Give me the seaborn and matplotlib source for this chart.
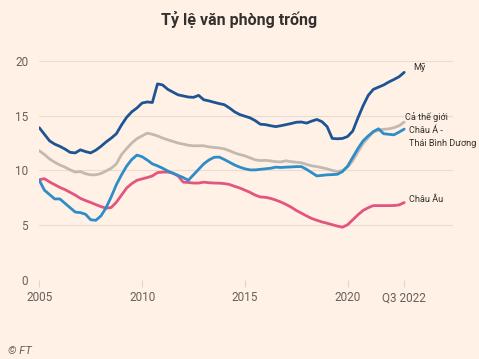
import numpy as np
import pandas as pd
import seaborn as sns
import matplotlib.pyplot as plt

# quarterly office vacancy rates (%), Q1 2005 .. Q3 2022
us = [13.9, 13.3, 12.7, 12.4, 12.2, 11.95, 11.65, 11.6, 11.88, 11.72, 11.6, 11.85,
      12.2, 12.6, 12.95, 13.35, 14.15, 14.85, 15.35, 15.7, 16.15, 16.25, 16.2, 17.9,
      17.8, 17.4, 17.15, 16.9, 16.8, 16.7, 16.67, 16.85, 16.45, 16.35, 16.22, 16.1,
      16.0, 15.7, 15.35, 15.1, 14.95, 14.8, 14.55, 14.22, 14.18, 14.08, 14.0, 14.08,
      14.18, 14.28, 14.4, 14.42, 14.32, 14.5, 14.65, 14.45, 14.0, 12.92, 12.89, 12.92,
      13.1, 13.6, 14.8, 15.9, 16.85, 17.4, 17.6, 17.8, 18.07, 18.3, 18.55, 18.95]

world = [11.8, 11.45, 11.05, 10.75, 10.5, 10.3, 10.05, 9.85, 9.9, 9.7, 9.6, 9.6,
         9.72, 9.95, 10.2, 10.6, 11.45, 12.0, 12.5, 12.9, 13.15, 13.4, 13.3, 13.15,
         12.95, 12.8, 12.65, 12.5, 12.4, 12.3, 12.25, 12.25, 12.25, 12.15, 12.1, 12.05,
         11.97, 11.8, 11.6, 11.45, 11.33, 11.15, 10.97, 10.9, 10.92, 10.87, 10.8, 10.78,
         10.88, 10.8, 10.75, 10.7, 10.55, 10.42, 10.35, 10.25, 10.15, 10.0, 9.9, 10.0,
         10.3, 10.9, 11.7, 12.45, 13.0, 13.5, 13.68, 13.75, 13.8, 13.9, 14.08, 14.41]

asia = [9.1, 8.2, 7.8, 7.4, 7.4, 7.0, 6.6, 6.2, 6.15, 6.0, 5.5, 5.45,
        5.85, 6.6, 7.6, 8.7, 9.6, 10.4, 11.0, 11.4, 11.25, 10.95, 10.6, 10.42,
        10.2, 9.95, 9.75, 9.55, 9.35, 9.1, 9.6, 10.1, 10.6, 10.95, 11.2, 11.22,
        11.0, 10.75, 10.5, 10.3, 10.15, 10.05, 10.05, 10.1, 10.15, 10.2, 10.3, 10.27,
        10.3, 10.32, 10.35, 10.35, 10.1, 9.8, 9.5, 9.55, 9.6, 9.62, 9.65, 9.9,
        10.4, 11.2, 12.0, 12.7, 13.15, 13.55, 13.8, 13.35, 13.3, 13.25, 13.5, 13.77]

europe = [9.15, 9.25, 8.95, 8.7, 8.45, 8.25, 8.0, 7.75, 7.45, 7.25, 7.08, 6.88,
          6.7, 6.55, 6.62, 7.1, 7.75, 8.4, 8.8, 9.1, 9.23, 9.35, 9.5, 9.8,
          9.85, 9.85, 9.75, 9.5, 8.93, 8.9, 8.85, 8.85, 8.93, 8.88, 8.85, 8.84,
          8.8, 8.72, 8.55, 8.4, 8.2, 8.0, 7.75, 7.58, 7.55, 7.45, 7.3, 7.12,
          6.9, 6.65, 6.35, 6.1, 5.85, 5.62, 5.45, 5.3, 5.18, 5.05, 4.92, 4.82,
          5.05, 5.5, 5.95, 6.35, 6.6, 6.79, 6.79, 6.79, 6.79, 6.8, 6.85, 7.07]

quarters = np.arange(len(us)) * 0.25 + 2005

names = ['Cả thế giới', 'Châu Âu', 'Châu Á - Thái Bình Dương', 'Mỹ']
colors = ['#c3b9b0', '#e3557f', '#2e8dc8', '#1d5594']
labels = ['Cả thế giới', 'Châu Âu', 'Châu Á -\nThái Bình Dương', 'Mỹ']

df = pd.DataFrame({'quarter': quarters, 'Mỹ': us, 'Cả thế giới': world,
                   'Châu Á - Thái Bình Dương': asia, 'Châu Âu': europe})
long = df.melt(id_vars='quarter', var_name='region', value_name='rate')

bg = '#fff1e5'
sns.set_theme(style='white', rc={'axes.facecolor': bg, 'figure.facecolor': bg})
plt.rcParams['font.family'] = ['Roboto', 'DejaVu Sans']

fig = plt.figure(figsize=(4.79, 3.59), dpi=100)
ax = fig.add_axes([0.082, 0.22, 0.864, 0.641])

sns.lineplot(data=long, x='quarter', y='rate', hue='region', hue_order=names,
             palette=colors, linewidth=2.0, legend=False, ax=ax)

ax.set_xlim(2005, 2025.13)
ax.set_ylim(0, 21)
ax.set_yticks([0, 5, 10, 15, 20])
ax.set_xticks([2005, 2010, 2015, 2020, quarters[-1]])
ax.set_xticklabels(['2005', '2010', '2015', '2020', 'Q3 2022'])
ax.set_xlabel('')
ax.set_ylabel('')
ax.grid(axis='y', color='#e9ddd2', linewidth=0.8)
ax.set_axisbelow(True)
for s in ax.spines.values():
    s.set_visible(False)
ax.tick_params(axis='y', length=0, pad=8, labelsize=8.5, labelcolor='#66605c')
ax.tick_params(axis='x', length=5, width=0.8, color='#e2d5ca', pad=3,
               labelsize=8.5, labelcolor='#66605c', bottom=True)

# end labels
offsets = {'Mỹ': (0.45, 0.45), 'Cả thế giới': (0.05, 0.45),
           'Châu Á - Thái Bình Dương': (0.25, -0.75), 'Châu Âu': (0.25, 0.3)}
for name, lab, vals in zip(names, labels, [world, europe, asia, us]):
    dx, dy = offsets[name]
    ax.text(quarters[-1] + dx, vals[-1] + dy, lab, fontsize=6.6, color='#33302e',
            va='center', ha='left', linespacing=1.55)

fig.text(0.5, 0.945, 'Tỷ lệ văn phòng trống', ha='center', va='center',
         fontsize=11.5, fontweight='semibold', color='#33302e')
fig.text(0.017, 0.022, '© FT', ha='left', va='center', fontsize=8,
         style='italic', color='#66605c')

fig.savefig('out.png', dpi=100, facecolor=bg)
